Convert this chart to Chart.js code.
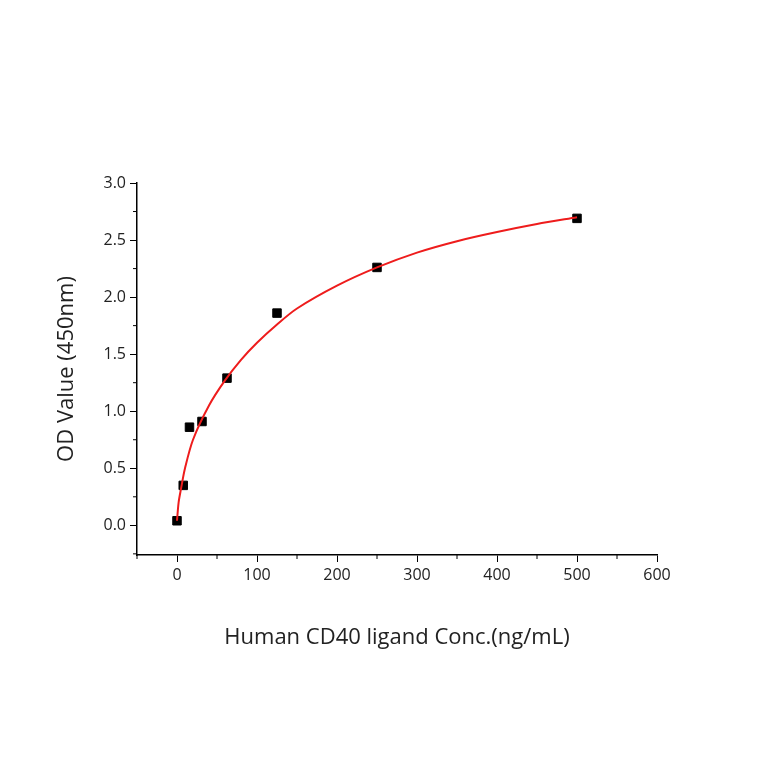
<!DOCTYPE html>
<html>
<head>
<meta charset="utf-8">
<script src="https://cdn.jsdelivr.net/npm/chart.js@4.4.0/dist/chart.umd.min.js"></script>
<style>
  html, body { margin: 0; padding: 0; background: #fff; }
  #wrap { width: 764px; height: 764px; }
</style>
</head>
<body>
<div id="wrap"><canvas id="chart"></canvas></div>
<script>
// measured points
const concX = [0, 7.8, 15.6, 31.25, 62.5, 125, 250, 500];
const odY = [0.04, 0.35, 0.86, 0.91, 1.29, 1.86, 2.26, 2.69];
// fitted curve
const fitX = [0, 2, 5, 10, 20, 40, 60, 80, 100, 125, 150, 200, 250, 300, 350, 400, 450, 500];
const fitY = [0.04, 0.2, 0.32, 0.5, 0.75, 1.05, 1.27, 1.45, 1.6, 1.76, 1.9, 2.1, 2.26, 2.39, 2.49, 2.57, 2.64, 2.7];

const font = 'Open Sans, Noto Sans, sans-serif';

// small outward minor ticks between the major ones
const minorTicks = {
  id: 'minorTicks',
  afterDraw(chart) {
    const ctx = chart.ctx;
    const xs = chart.scales.x, ys = chart.scales.y;
    ctx.save();
    ctx.strokeStyle = '#000';
    ctx.lineWidth = 1;
    for (let v = -50; v <= 600; v += 100) {
      const px = xs.getPixelForValue(v);
      ctx.beginPath(); ctx.moveTo(px, ys.bottom); ctx.lineTo(px, ys.bottom + 4); ctx.stroke();
    }
    for (let v = -0.25; v <= 3; v += 0.5) {
      const py = ys.getPixelForValue(v);
      ctx.beginPath(); ctx.moveTo(xs.left, py); ctx.lineTo(xs.left - 4, py); ctx.stroke();
    }
    ctx.restore();
  }
};

new Chart(document.getElementById('chart'), {
  type: 'scatter',
  data: {
    datasets: [
      {
        type: 'line',
        data: fitX.map((x, i) => ({ x, y: fitY[i] })),
        borderColor: '#ee1c1c',
        borderWidth: 2,
        pointRadius: 0,
        tension: 0.3,
        fill: false
      },
      {
        data: concX.map((x, i) => ({ x, y: odY[i] })),
        pointStyle: 'rect',
        pointRadius: 6,
        backgroundColor: '#000',
        borderColor: '#000'
      }
    ]
  },
  options: {
    responsive: true,
    maintainAspectRatio: false,
    animation: false,
    layout: { padding: { left: 50, top: 183, right: 107, bottom: 109 } },
    plugins: { legend: { display: false }, tooltip: { enabled: false } },
    scales: {
      x: {
        type: 'linear', min: -50, max: 600,
        afterBuildTicks: s => { s.ticks = [0, 100, 200, 300, 400, 500, 600].map(v => ({ value: v })); },
        afterFit: s => { s.height = 100; },
        border: { color: '#000', width: 1.5 },
        grid: { drawOnChartArea: false, color: '#000', tickLength: 7 },
        ticks: { color: '#222', font: { family: font, size: 16 }, padding: 4, maxRotation: 0 },
        title: { display: true, text: 'Human CD40 ligand Conc.(ng/mL)', color: '#222', font: { family: font, size: 22 }, padding: { top: 4 } }
      },
      y: {
        type: 'linear', min: -0.26, max: 3.0,
        afterBuildTicks: s => { s.ticks = [0, 0.5, 1, 1.5, 2, 2.5, 3].map(v => ({ value: v })); },
        afterFit: s => { s.width = 87; },
        border: { color: '#000', width: 1.5 },
        grid: { drawOnChartArea: false, color: '#000', tickLength: 7 },
        ticks: { color: '#222', font: { family: font, size: 16 }, padding: 4, callback: v => v.toFixed(1) },
        title: { display: true, text: 'OD Value (450nm)', color: '#222', font: { family: font, size: 22 }, padding: { bottom: 2 } }
      }
    }
  },
  plugins: [minorTicks]
});
</script>
</body>
</html>
